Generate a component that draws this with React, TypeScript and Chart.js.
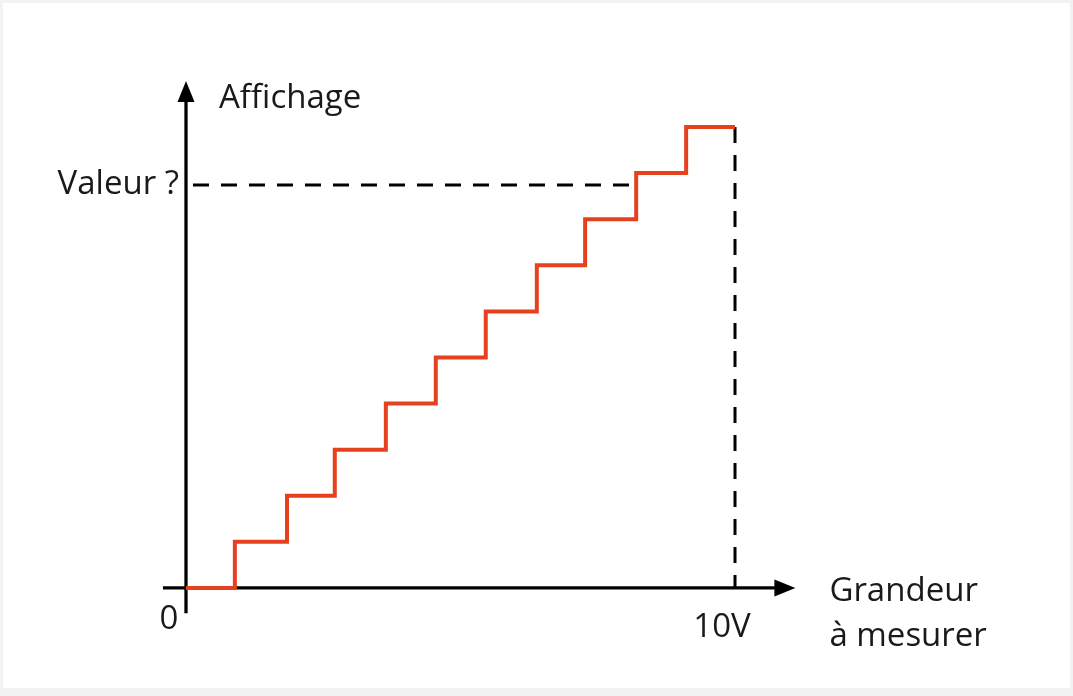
import React, { useEffect, useRef } from "react";
import { Chart, registerables } from "chart.js";

Chart.register(...registerables);

// Input voltage at each step edge (V) and displayed level
const stepInputs = [0, 0.89, 1.84, 2.71, 3.64, 4.55, 5.46, 6.39, 7.27, 8.2, 9.11, 10];
const displayLevels = [0, 1, 2, 3, 4, 5, 6, 7, 8, 9, 10, 10];
// the questioned value: horizontal dashed line
const valeurLevel = 8.74;
const valeurInput = 8.2;
// full scale
const fullScaleInput = 10;
const fullScaleLevel = 10;
// axis extents (value space)
const xAxisRange = [-0.42, 11.1];
const yAxisRange = [-0.55, 11.0];

const yAxisTitle = "Affichage";
const yTickLabel = "Valeur ?";
const xTickLabels = ["0", "10V"];
const xAxisTitle = ["Grandeur", "à mesurer"];

const FONT = '"Open Sans", sans-serif';
const TEXT = "#1a1a1a";
const RED = "#e5411f";

const decorPlugin = {
  id: "decor",
  beforeDraw(chart: any) {
    const ctx = chart.ctx;
    ctx.save();
    ctx.fillStyle = "#f2f2f2";
    ctx.fillRect(0, 0, chart.width, chart.height);
    ctx.fillStyle = "#ffffff";
    ctx.fillRect(3, 3, chart.width - 6, 685);
    ctx.restore();
  },
  beforeDatasetsDraw(chart: any) {
    const ctx = chart.ctx;
    const xs = chart.scales.x;
    const ys = chart.scales.y;
    const x0 = xs.getPixelForValue(0);
    const y0 = ys.getPixelForValue(0);
    ctx.save();
    // dashed guides
    ctx.strokeStyle = "#000";
    ctx.lineWidth = 3;
    ctx.setLineDash([16, 12]);
    ctx.beginPath();
    const yv = ys.getPixelForValue(valeurLevel);
    ctx.moveTo(x0 + 7, yv);
    ctx.lineTo(xs.getPixelForValue(valeurInput), yv);
    ctx.stroke();
    ctx.beginPath();
    const xf = xs.getPixelForValue(fullScaleInput);
    ctx.moveTo(xf, ys.getPixelForValue(fullScaleLevel));
    ctx.lineTo(xf, y0);
    ctx.stroke();
    ctx.setLineDash([]);
    // x axis
    const xStart = xs.getPixelForValue(xAxisRange[0]);
    const xEnd = xs.getPixelForValue(xAxisRange[1]);
    ctx.lineWidth = 3.3;
    ctx.beginPath();
    ctx.moveTo(xStart, y0);
    ctx.lineTo(xEnd - 18, y0);
    ctx.stroke();
    ctx.fillStyle = "#000";
    ctx.beginPath();
    ctx.moveTo(xEnd, y0);
    ctx.lineTo(xEnd - 21, y0 - 8.5);
    ctx.lineTo(xEnd - 21, y0 + 8.5);
    ctx.closePath();
    ctx.fill();
    // y axis
    const yStart = ys.getPixelForValue(yAxisRange[0]);
    const yEnd = ys.getPixelForValue(yAxisRange[1]);
    ctx.beginPath();
    ctx.moveTo(x0, yStart);
    ctx.lineTo(x0, yEnd + 18);
    ctx.stroke();
    ctx.beginPath();
    ctx.moveTo(x0, yEnd);
    ctx.lineTo(x0 - 8.5, yEnd + 21);
    ctx.lineTo(x0 + 8.5, yEnd + 21);
    ctx.closePath();
    ctx.fill();
    ctx.restore();
  },
  afterDraw(chart: any) {
    const ctx = chart.ctx;
    const xs = chart.scales.x;
    const ys = chart.scales.y;
    const x0 = xs.getPixelForValue(0);
    const y0 = ys.getPixelForValue(0);
    ctx.save();
    ctx.fillStyle = TEXT;
    ctx.font = `33px ${FONT}`;
    ctx.textBaseline = "alphabetic";
    // y title
    ctx.textAlign = "left";
    ctx.fillText(yAxisTitle, x0 + 33, ys.getPixelForValue(yAxisRange[1]) + 27);
    // Valeur ?
    ctx.textAlign = "right";
    ctx.fillText(yTickLabel, x0 - 7, ys.getPixelForValue(valeurLevel) + 9);
    // x ticks
    ctx.textAlign = "center";
    ctx.fillText(xTickLabels[0], x0 - 17, y0 + 41);
    ctx.fillText(xTickLabels[1], xs.getPixelForValue(fullScaleInput) - 13, y0 + 49);
    // x title
    ctx.textAlign = "left";
    const xt = xs.getPixelForValue(xAxisRange[1]) + 34;
    ctx.fillText(xAxisTitle[0], xt, y0 + 13);
    ctx.fillText(xAxisTitle[1], xt, y0 + 58);
    ctx.restore();
  },
};

export default function App() {
  const ref = useRef<HTMLCanvasElement | null>(null);
  useEffect(() => {
    if (!ref.current) return;
    const chart = new Chart(ref.current, {
      type: "line",
      data: {
        datasets: [
          {
            data: stepInputs.map((x, i) => ({ x, y: displayLevels[i] })),
            stepped: true,
            borderColor: RED,
            borderWidth: 4,
            pointRadius: 0,
            fill: false,
            borderJoinStyle: "miter",
          },
        ],
      },
      options: {
        animation: false,
        responsive: true,
        maintainAspectRatio: false,
        layout: { padding: { left: 158.55, right: 255.65, top: 57.85, bottom: 85 } },
        plugins: { legend: { display: false }, tooltip: { enabled: false }, title: { display: false } },
        scales: {
          x: { type: "linear", min: -0.5, max: 11.5, display: false },
          y: { type: "linear", min: -0.5, max: 11.5, display: false },
        },
      },
      plugins: [decorPlugin],
    });
    return () => chart.destroy();
  }, []);
  return (
    <div style={{ position: "absolute", left: 0, top: 0, width: 1073, height: 696 }}>
      <canvas ref={ref} />
    </div>
  );
}
